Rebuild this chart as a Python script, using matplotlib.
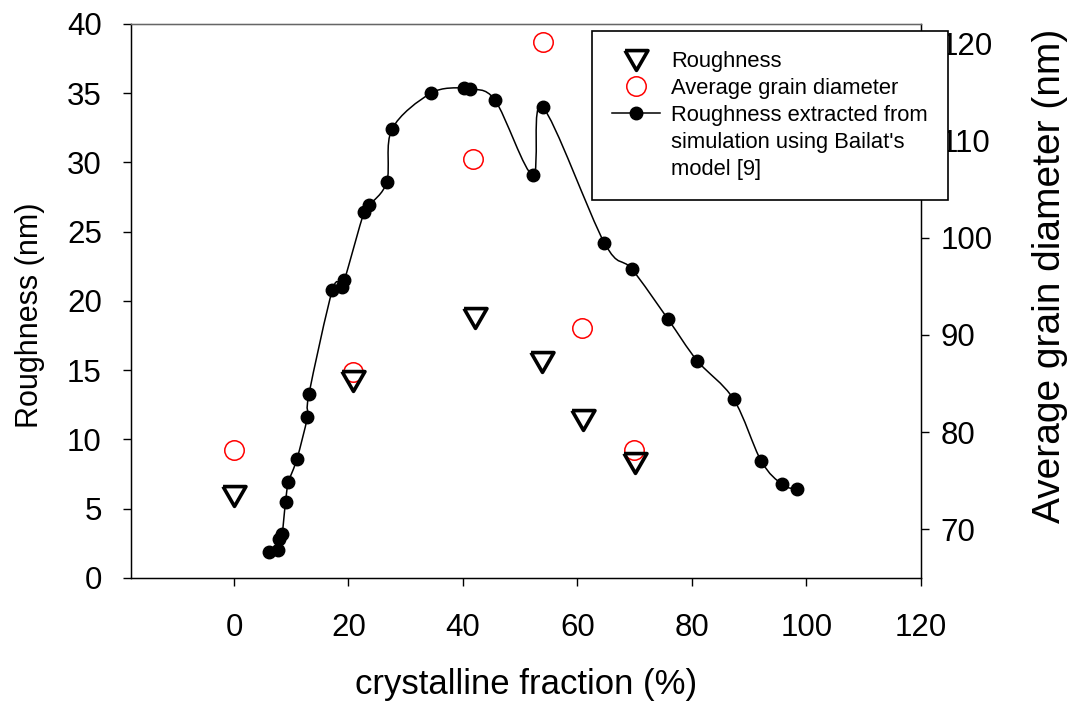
import matplotlib
matplotlib.use("Agg")
import matplotlib.pyplot as plt
from matplotlib.path import Path
from matplotlib.patches import PathPatch
from matplotlib.lines import Line2D

plt.rcParams['font.family'] = ['Liberation Sans', 'DejaVu Sans']

# measured roughness (left axis)
rough_x = [0, 20.8, 42.1, 53.8, 61.0, 70.0]
rough_y = [5.9, 14.2, 18.8, 15.6, 11.4, 8.3]

# average grain diameter (right axis)
grain_x = [0, 20.8, 41.8, 53.9, 60.8, 69.8]
grain_y = [78.2, 86.2, 108.1, 120.1, 90.7, 78.2]

# roughness from simulation (left axis)
sim_x = [6.1, 7.6, 7.8, 8.4, 9.0, 9.5, 11.0, 12.8, 13.1, 17.2, 18.8, 19.3,
         22.7, 23.6, 26.7, 27.6, 34.4, 40.1, 41.3, 45.6, 52.2, 53.9,
         64.7, 69.5, 75.8, 80.9, 87.3, 92.1, 95.8, 98.4]
sim_y = [1.9, 2.0, 2.8, 3.2, 5.5, 6.9, 8.6, 11.6, 13.3, 20.8, 21.0, 21.5,
         26.4, 26.9, 28.6, 32.4, 35.0, 35.4, 35.3, 34.5, 29.1, 34.0,
         24.2, 22.3, 18.7, 15.7, 12.9, 8.45, 6.75, 6.4]

# equilateral down-pointing triangle, centred on its box
tri = [(-1, 0.866), (1, 0.866), (0, -0.866), (-1, 0.866)]


def spline_path(xs, ys):
    # Catmull-Rom through the points, as cubic Bezier segments
    pts = list(zip(xs, ys))
    pts = [pts[0]] + pts + [pts[-1]]
    verts = [pts[1]]
    codes = [Path.MOVETO]
    for i in range(1, len(pts) - 2):
        p0, p1, p2, p3 = pts[i - 1], pts[i], pts[i + 1], pts[i + 2]
        c1 = (p1[0] + (p2[0] - p0[0]) / 6, p1[1] + (p2[1] - p0[1]) / 6)
        c2 = (p2[0] - (p3[0] - p1[0]) / 6, p2[1] - (p3[1] - p1[1]) / 6)
        verts += [c1, c2, p2]
        codes += [Path.CURVE4] * 3
    return Path(verts, codes)


fig = plt.figure(figsize=(10.72, 7.04), dpi=100)
ax = fig.add_axes([0.1222, 0.179, 0.7368, 0.787])
ax2 = ax.twinx()
ax.set_zorder(ax2.get_zorder() + 1)
ax.patch.set_visible(False)

ax2.plot(grain_x, grain_y, linestyle='none', marker='o', ms=14,
         mfc='none', mec='#ff0000', mew=1.1)

ax.add_patch(PathPatch(spline_path(sim_x, sim_y), facecolor='none',
                       edgecolor='black', lw=1.1))
ax.plot(sim_x, sim_y, linestyle='none', marker='o', ms=9, color='black')
ax.plot(rough_x, rough_y, linestyle='none', marker=tri, ms=16.5,
        mfc='none', mec='black', mew=2.6)

ax.set_xlim(-18, 120)
ax.set_ylim(0, 40)
ax2.set_ylim(65, 122)
ax.set_xticks(range(0, 121, 20))
ax.set_yticks(range(0, 41, 5))
ax2.set_yticks(range(70, 121, 10))

for a in (ax, ax2):
    a.tick_params(direction='out', length=6, width=1, labelsize=22.5)
ax.tick_params(axis='y', pad=15)
ax2.tick_params(axis='y', pad=8)
ax.tick_params(axis='x', pad=19)
for s in ax.spines.values():
    s.set_linewidth(1)
ax.spines['top'].set_color('#666666')

ax.set_xlabel('crystalline fraction (%)', fontsize=25, labelpad=18)
ax.set_ylabel('Roughness (nm)', fontsize=22)
ax.yaxis.set_label_coords(-0.109, 0.475)
ax2.set_ylabel('Average grain diameter (nm)', fontsize=28)
ax2.yaxis.set_label_coords(1.1405, 0.545)

handles = [
    Line2D([], [], linestyle='none', marker=tri, ms=16.5, mfc='none',
           mec='black', mew=2.6),
    Line2D([], [], linestyle='none', marker='o', ms=14, mfc='none',
           mec='#ff0000', mew=1.1),
    Line2D([], [], color='black', lw=1.1, marker='o', ms=9),
    Line2D([], [], linestyle='none', marker='none'),
    Line2D([], [], linestyle='none', marker='none'),
]
labels = ['Roughness', 'Average grain diameter', 'Roughness extracted from',
          "simulation using Bailat's", 'model [9]']
leg = fig.legend(handles, labels, loc='upper left',
                 bbox_to_anchor=(592 / 1072, 1 - 31 / 704),
                 fontsize=15.8, frameon=True, fancybox=False, framealpha=1,
                 edgecolor='black', handlelength=2.2, handletextpad=0.5,
                 labelspacing=0.27, borderpad=0.92, borderaxespad=0)
leg.get_frame().set_linewidth(1.2)

plt.savefig('out.png')
